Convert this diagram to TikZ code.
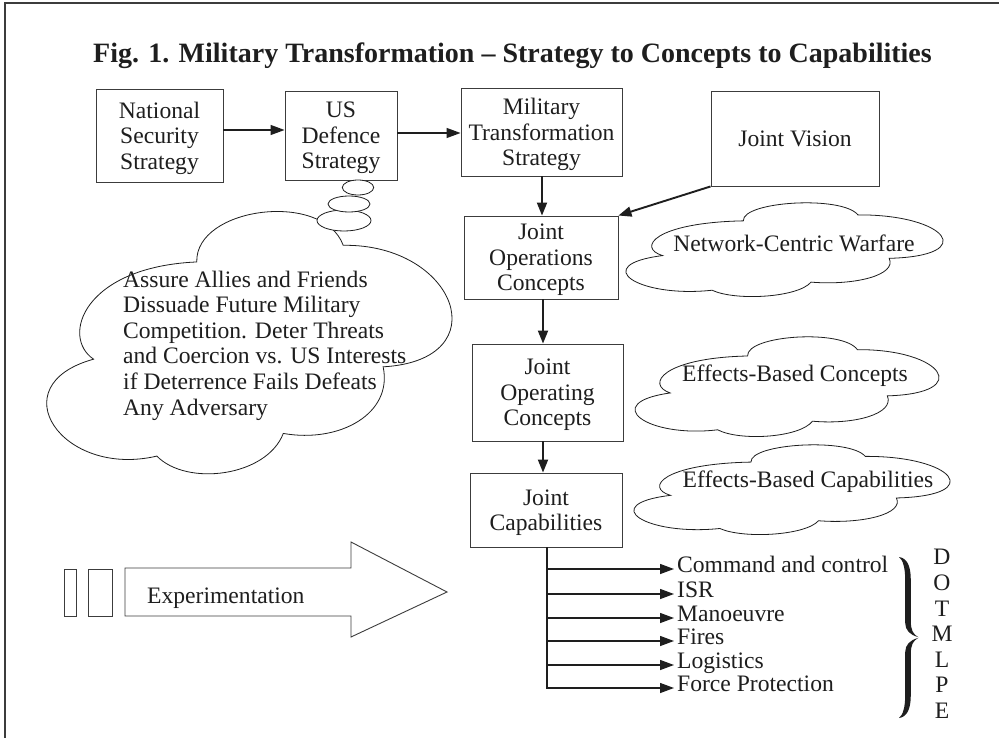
\documentclass[tikz,border=0pt]{standalone}
\usepackage{fontspec}
\setmainfont{Liberation Serif}
\usetikzlibrary{arrows.meta,shapes.geometric}

\newcommand{\bodyfont}{\fontsize{23.6}{25.6}\selectfont}
\newcommand{\titlefont}{\fontsize{28}{30}\selectfont\bfseries}
\definecolor{ink}{HTML}{1E1E1E}
\definecolor{frame}{HTML}{3C3C3C}

\tikzset{
  box/.style={draw=frame, line width=0.9pt, inner sep=0pt, align=center,
              font=\bodyfont, text=ink, text depth=0pt},
  flow/.style={draw=ink, line width=1.9pt, -{Triangle[length=13pt,width=10pt]}},
  thinflow/.style={draw=ink, line width=1.3pt, -{Triangle[length=14pt,width=10pt]}},
  branch/.style={draw=ink, line width=1.3pt, -{Triangle[length=14pt,width=10pt]}},
  item/.style={anchor=west, inner xsep=3pt, inner ysep=0pt, font=\bodyfont, text=ink,
               text height=12pt, text depth=5pt},
  cloudline/.style={draw=ink, line width=0.8pt, fill=white},
  cloudshape/.pic={
    \path[cloudline] (125,442) .. controls (25,375) and (95,165) .. (435,150)
      .. controls (430,-15) and (815,-65) .. (875,100)
      .. controls (1215,95) and (1345,445) .. (995,465)
      .. controls (1025,605) and (865,695) .. (695,665)
      .. controls (645,795) and (405,825) .. (315,733)
      .. controls (30,800) and (-160,520) .. (125,442) -- cycle;
  }
}

\begin{document}
\begin{tikzpicture}[x=1pt,y=-1pt]
\useasboundingbox (0,0) rectangle (999,738);
\fill[white] (0,0) rectangle (999,738);

% outer frame
\draw[frame, line width=1.2pt] (5,745) -- (5,3) -- (1005,3);

% title
\node[anchor=base, font=\titlefont, text=ink, inner sep=0pt] (title) at (512.5,63)
  {Fig. 1. Military Transformation – Strategy to Concepts to Capabilities};

% strategy chain
\node[box, minimum width=127pt, minimum height=93pt] (nss) at (159.5,135.5)
  {National\\Security\\Strategy};
\node[box, minimum width=112pt, minimum height=89pt] (usd) at (341,135.5)
  {US\\Defence\\Strategy};
\node[box, minimum width=161pt, minimum height=88pt] (mts) at (541.5,132)
  {Military\\Transformation\\Strategy};
\node[box, minimum width=168pt, minimum height=95pt] (jv) at (795,138.5)
  {Joint Vision};

% concept and capability boxes
\node[box, minimum width=154pt, minimum height=83pt] (joc) at (541,257.5)
  {Joint\\Operations\\Concepts};
\node[box, minimum width=151pt, minimum height=97pt] (jopc) at (547.5,392.5)
  {Joint\\Operating\\Concepts};
\node[box, minimum width=152pt, minimum height=74pt] (jcap) at (546,510)
  {Joint\\Capabilities};

% connectors between boxes
\draw[thinflow] ([yshift=5.5pt]nss.east) -- ([yshift=5.5pt]usd.west);
\draw[thinflow] ([yshift=2.5pt]usd.east) -- ([yshift=2.5pt]usd.east -| mts.west);
\draw[flow] ([xshift=0.5pt]mts.south) -- ([xshift=0.5pt]mts.south |- joc.north);
\draw[flow] (jv.south west) -- (joc.north east);
\draw[flow] ([xshift=2pt]joc.south) -- ([xshift=2pt]joc.south |- jopc.north);
\draw[flow] ([xshift=-4.5pt]jopc.south) -- ([xshift=-4.5pt]jopc.south |- jcap.north);

% big thought cloud with its trailing bubbles
\pic[xscale=0.3328, yscale=0.333] at (52,212) {cloudshape};
\draw[cloudline] (344,220.5) ellipse [x radius=27pt, y radius=10.5pt];
\draw[cloudline] (349,204) ellipse [x radius=21pt, y radius=8pt];
\draw[cloudline] (358,187.5) ellipse [x radius=15.7pt, y radius=7.5pt];
\node[anchor=base west, align=left, inner sep=0pt, font=\bodyfont, text=ink] (goals) at (123,415)
  {Assure Allies and Friends\\
   Dissuade Future Military\\
   Competition. Deter Threats\\
   and Coercion vs. US Interests\\
   if Deterrence Fails Defeats\\
   Any Adversary};

% side clouds
\pic[xscale=0.2605, yscale=0.119] at (630,203) {cloudshape};
\node[font=\bodyfont, text=ink, inner sep=0pt] (ncw) at (794,243) {Network-Centric Warfare};
\pic[xscale=0.2496, yscale=0.1266] at (639,337) {cloudshape};
\node[font=\bodyfont, text=ink, inner sep=0pt] (ebc) at (795,376) {Effects-Based Concepts};
\pic[xscale=0.2597, yscale=0.1139] at (638,445) {cloudshape};
\node[font=\bodyfont, text=ink, inner sep=0pt] (ebcap) at (808,482) {Effects-Based Capabilities};

% capability list
\node[item] (c2)  at (674,569) {Command and control};
\node[item] (isr) at (674,594) {ISR};
\node[item] (man) at (674,618) {Manoeuvre};
\node[item] (fir) at (674,641) {Fires};
\node[item] (log) at (674,665) {Logistics};
\node[item] (fp)  at (674,688) {Force Protection};

\draw[branch] ([xshift=1pt]jcap.south) |- (fp.west);
\foreach \n in {c2,isr,man,fir,log}
  \draw[branch] ([xshift=1pt]jcap.south |- \n.west) -- (\n.west);

% curly brace grouping the list, drawn as a filled glyph-like outline
\fill[ink]
  (899,557) .. controls (907,558) and (910.8,566) .. (910.8,580) -- (910.8,621)
  .. controls (910.8,630) and (913,634) .. (918,637) -- (918,638)
  .. controls (913,641) and (910.8,645) .. (910.8,654) -- (910.8,695)
  .. controls (910.8,709) and (907,717) .. (899,718)
  .. controls (903,715) and (905.2,707) .. (905.2,695) -- (905.2,652)
  .. controls (905.2,645) and (910,640) .. (918,638) -- (918,637)
  .. controls (910,635) and (905.2,630) .. (905.2,623) -- (905.2,580)
  .. controls (905.2,568) and (903,560) .. (899,557) -- cycle;
\node[align=center, font=\bodyfont, text=ink, inner sep=0pt] (dotmlpe) at (942,634)
  {D\\O\\T\\M\\L\\P\\E};

% experimentation arrow
\draw[frame, line width=0.9pt] (64,569) rectangle (76,616);
\draw[frame, line width=0.9pt] (88,569) rectangle (112,616);
\draw[frame, line width=0.9pt, line join=miter]
  (125,568) -- (351,568) -- (351,542) -- (447,592) -- (351,637) -- (351,616) -- (125,616) -- cycle;
\node[anchor=base west, font=\bodyfont, text=ink, inner sep=0pt] (exp) at (147,603) {Experimentation};

\end{tikzpicture}
\end{document}
